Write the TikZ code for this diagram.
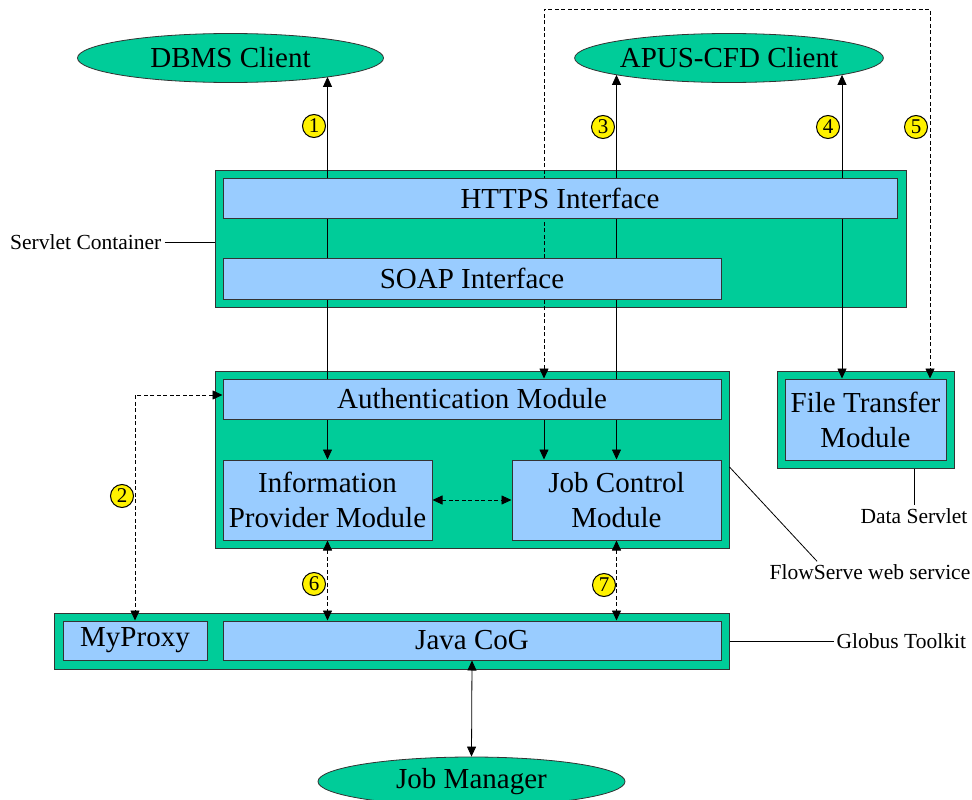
\documentclass[tikz,border=0pt]{standalone}
\usepackage{fontspec}
\setmainfont{Liberation Serif}
\usetikzlibrary{arrows.meta,shapes.geometric,positioning}
\definecolor{boxgreen}{RGB}{0,204,153}
\definecolor{boxblue}{RGB}{153,204,255}
\pgfdeclarelayer{back}
\pgfdeclarelayer{wires}
\pgfsetlayers{back,wires,main}
\tikzstyle{base} = [rectangle, draw=black!80, line width=1pt, inner sep=0pt, align=center, font=\fontsize{29}{35}\selectfont]
\tikzstyle{container} = [base, fill=boxgreen]
\tikzstyle{module} = [base, fill=boxblue]
\tikzstyle{client} = [ellipse, draw=black!80, line width=0.8pt, fill=boxgreen, inner sep=0pt, minimum width=306pt, minimum height=49pt, font=\fontsize{29}{35}\selectfont]
\tikzstyle{badge} = [circle, draw=black, line width=1pt, fill=yellow, inner sep=0pt, minimum size=23pt, font=\fontsize{21}{21}\selectfont]
\tikzstyle{caption} = [inner sep=3pt, font=\fontsize{21.5}{24}\selectfont]
\tikzstyle{wire} = [line width=0.8pt]
\tikzstyle{dwire} = [wire, dash pattern=on 4pt off 2.5pt]

\begin{document}
\begin{tikzpicture}[x=1pt, y=-1pt, >={Triangle[length=10pt,width=9pt]}]
    \useasboundingbox (0,0) rectangle (972,800);
    \begin{pgfonlayer}{back}
    \node (servlet) [container, minimum width=691pt, minimum height=137pt] at (560.5,238.5) {};
    \node (flowserve) [container, minimum width=514pt, minimum height=177pt] at (472,459.5) {};
    \node (dataserv) [container, minimum width=177pt, minimum height=97pt] at (865.5,419.5) {};
    \node (globus) [container, minimum width=675pt, minimum height=56pt] at (391.5,641) {};
    \end{pgfonlayer}

    \node (dbms) [client] at (230.5,58) {DBMS Client};
    \node (apus) [client] at (729,58) {APUS-CFD Client};
    \node (jobmgr) [client, minimum width=307pt] at (471.5,781.5) {Job Manager};
    \node (https) [module, minimum width=674pt, minimum height=40pt] at (560,198) {HTTPS Interface};
    \node (soap) [module, minimum width=498pt, minimum height=41pt] at (472,278.5) {SOAP Interface};
    \node (auth) [module, minimum width=498pt, minimum height=40pt] at (472,399) {Authentication Module};
    \node (info) [module, minimum width=209pt, minimum height=80pt] at (327.5,500) {Information\\Provider Module};
    \node (jobctl) [module, minimum width=209pt, minimum height=80pt] at (616.5,500) {Job Control\\Module};
    \node (ftm) [module, minimum width=161pt, minimum height=81pt] at (865.5,419.5) {File Transfer\\Module};
    \node (myproxy) [module, minimum width=144pt, minimum height=39pt] at (135,640.5) {MyProxy};
    \node (cog) [module, minimum width=498pt, minimum height=39pt] at (472,640.5) {Java CoG};

    \node (lblservlet) [caption, left=50pt of servlet, yshift=-3.5pt] {Servlet Container};
    \node (lbldata) [caption] at (914,516) {Data Servlet};
    \node (lblflow) [caption] at (870,572) {FlowServe web service};
    \node (lblglobus) [caption, right=104pt of globus] {Globus Toolkit};

    \node (n1) [badge] at (314,126) {1};
    \node (n2) [badge] at (122,496) {2};
    \node (n3) [badge] at (603,127) {3};
    \node (n4) [badge] at (828,127) {4};
    \node (n5) [badge] at (916,127) {5};
    \node (n6) [badge] at (314,584) {6};
    \node (n7) [badge] at (604,585) {7};

    \coordinate (col4) at (842,0);
    \coordinate (bendl) at (544,9);
    \coordinate (bendr) at (930,9);
    \begin{pgfonlayer}{wires}
    \draw[wire, ->] (auth.north -| info.north) -- ([yshift=6pt]dbms.south -| info.north);
    \draw[wire, ->] (auth.north -| jobctl.north) -- ([yshift=8pt]apus.south -| jobctl.north);
    \draw[wire, <->] (ftm.north -| col4) -- ([yshift=8pt]apus.south -| col4);
    \draw[dwire, <->] (auth.north -| bendl) -- (bendl) -- (bendr) -- (bendr |- ftm.north);
    \draw[wire, ->] (auth.south -| info.north) -- (info.north);
    \draw[wire, ->] (auth.south -| bendl) -- (jobctl.north -| bendl);
    \draw[wire, ->] (auth.south -| jobctl.north) -- (jobctl.north);
    \draw[dwire, <->] (info.east) -- (jobctl.west);
    \draw[dwire, <->] ([yshift=4pt]auth.west) -| (myproxy.north);
    \draw[dwire, <->] (info.south) -- (info.south |- cog.north);
    \draw[dwire, <->] (jobctl.south) -- (jobctl.south |- cog.north);
    \draw[wire, <->] (cog.south) -- (jobmgr.north);
    \draw[wire] (lblservlet.east) -- (lblservlet.east -| servlet.west);
    \draw[wire] (dataserv.south -| lbldata.north) -- (lbldata.north);
    \draw[wire] ([yshift=-7.5pt]flowserve.east) -- ([xshift=-53pt]lblflow.north);
    \draw[wire] (globus.east) -- (lblglobus.west);
    \end{pgfonlayer}
\end{tikzpicture}
\end{document}
